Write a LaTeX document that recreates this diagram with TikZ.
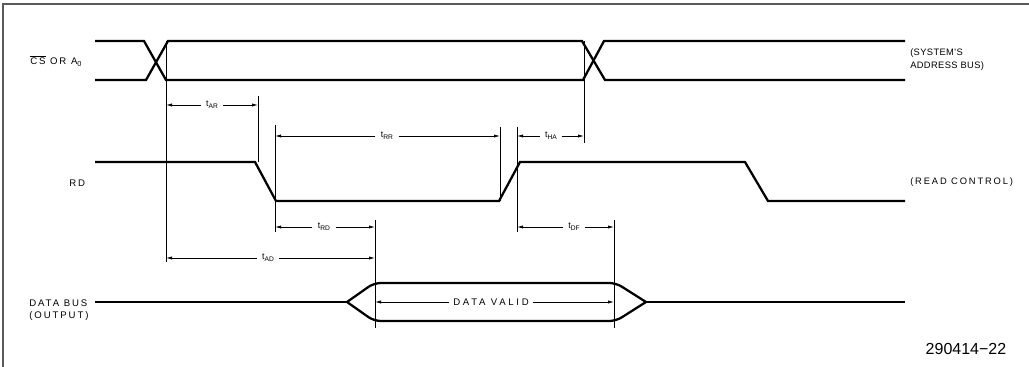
\documentclass[tikz,border=0pt]{standalone}
\usepackage{fontspec}
\setmainfont{Liberation Sans}
\newfontfamily\lblA[LetterSpace=20]{Liberation Sans}
\newfontfamily\lblB[LetterSpace=4]{Liberation Sans}
\newfontfamily\lblC[LetterSpace=20]{Liberation Sans}
\newfontfamily\lblD[LetterSpace=28]{Liberation Sans}
\usetikzlibrary{arrows.meta}
\newcommand{\tmlabel}[1]{{\fontsize{6.6}{7}\selectfont t\raisebox{-1.4pt}{\fontsize{5}{5}\selectfont #1}}}
\begin{document}
\begin{tikzpicture}[x=0.75pt,y=-0.75pt,
  sig/.style={line width=1.7pt, line join=miter},
  thinln/.style={line width=0.55pt},
  dimarr/.style={line width=0.55pt, -{Latex[length=4.5pt,width=2.4pt]}},
  tl/.style={inner xsep=4pt, inner ysep=0pt},
  lbl/.style={inner sep=0pt, anchor=base west},
  frameln/.style={line width=1.4pt, draw=black!65}]
\useasboundingbox (0,0) rectangle (1029,367);
\draw[frameln] (3,367) -- (3,4) -- (1029,4);

% ---- CS / A0 (address bus)
\draw[sig] (95,41) -- (144,41) -- (166,80) -- (583,80) -- (604,41) -- (905,41);
\draw[sig] (95,80) -- (146,80) -- (168,41) -- (582,41) -- (605,80) -- (905,80);

% ---- RD (read control)
\draw[sig] (95,162) -- (255,162) -- (276,201) -- (499,201) -- (520,162) -- (745,162) -- (768,201) -- (905,201);

% ---- data bus
\draw[sig] (95,302) -- (347,302);
\draw[sig] (646,302) -- (905,302);
\draw[sig, rounded corners=5] (347,302) -- (374,283) -- (616,283) -- (646,302);
\draw[sig, rounded corners=5] (347,302) -- (374,321) -- (616,321) -- (646,302);

% ---- reference lines
\coordinate (vA) at (166,41);  \coordinate (vAb) at (166,262);
\coordinate (vB) at (258,96);  \coordinate (vBb) at (258,162);
\coordinate (vC) at (275,125); \coordinate (vCb) at (275,232);
\coordinate (vD) at (500,127); \coordinate (vDb) at (500,201);
\coordinate (vE) at (517,127); \coordinate (vEb) at (517,232);
\coordinate (vF) at (584,41);  \coordinate (vFb) at (584,143);
\coordinate (vG) at (375,220); \coordinate (vGb) at (375,328);
\coordinate (vH) at (614,220); \coordinate (vHb) at (614,328);
\foreach \a/\b in {vA/vAb,vB/vBb,vC/vCb,vD/vDb,vE/vEb,vF/vFb,vG/vGb,vH/vHb}
  \draw[thinln] (\a) -- (\b);

% ---- timing dimensions
\node[tl] (tAR) at (212,105) {\tmlabel{AR}};
\draw[dimarr] (tAR.west) -- (tAR.west -| vA);
\draw[dimarr] (tAR.east) -- (tAR.east -| vB);

\node[tl] (tRR) at (387,136) {\tmlabel{RR}};
\draw[dimarr] (tRR.west) -- (tRR.west -| vC);
\draw[dimarr] (tRR.east) -- (tRR.east -| vD);

\node[tl] (tHA) at (551,136) {\tmlabel{HA}};
\draw[dimarr] (tHA.west) -- (tHA.west -| vE);
\draw[dimarr] (tHA.east) -- (tHA.east -| vF);

\node[tl] (tRD) at (324,227) {\tmlabel{RD}};
\draw[dimarr] (tRD.west) -- (tRD.west -| vC);
\draw[dimarr] (tRD.east) -- (tRD.east -| vG);

\node[tl] (tDF) at (574,227) {\tmlabel{DF}};
\draw[dimarr] (tDF.west) -- (tDF.west -| vE);
\draw[dimarr] (tDF.east) -- (tDF.east -| vH);

\node[tl] (tAD) at (268,258) {\tmlabel{AD}};
\draw[dimarr] (tAD.west) -- (tAD.west -| vA);
\draw[dimarr] (tAD.east) -- (tAD.east -| vG);

\node[tl, inner xsep=3pt, font=\lblD\fontsize{7.2}{8}\selectfont] (dv) at (491,302) {DATA VALID};
\draw[dimarr] (dv.west) -- (dv.west -| vG);
\draw[dimarr] (dv.east) -- (dv.east -| vH);

% ---- signal names
\node[lbl, font=\lblA\fontsize{7.2}{8}\selectfont] (cs) at (30,64.5)
  {$\overline{\mbox{CS}}$ OR A\raisebox{-1.6pt}{\fontsize{5.5}{5}\selectfont 0}};
\node[lbl, font=\lblA\fontsize{7.2}{8}\selectfont] (rd) at (69,186.5) {RD};
\node[lbl, font=\lblA\fontsize{7.2}{8}\selectfont] (db) at (29,306.5) {DATA BUS};
\node[lbl, font=\lblA\fontsize{7.2}{8}\selectfont] (out) at (29,318.5) {(OUTPUT)};

\node[lbl, font=\lblB\fontsize{7}{8}\selectfont] (sys) at (910,56) {(SYSTEM'S};
\node[lbl, font=\lblB\fontsize{7}{8}\selectfont] (adr) at (910,69) {ADDRESS BUS)};
\node[lbl, font=\lblC\fontsize{7}{8}\selectfont] (rc) at (910,185) {(READ CONTROL)};

\node[inner sep=0pt, font=\fontsize{12}{14}\selectfont] (fig) at (966,349) {290414−22};
\end{tikzpicture}
\end{document}
